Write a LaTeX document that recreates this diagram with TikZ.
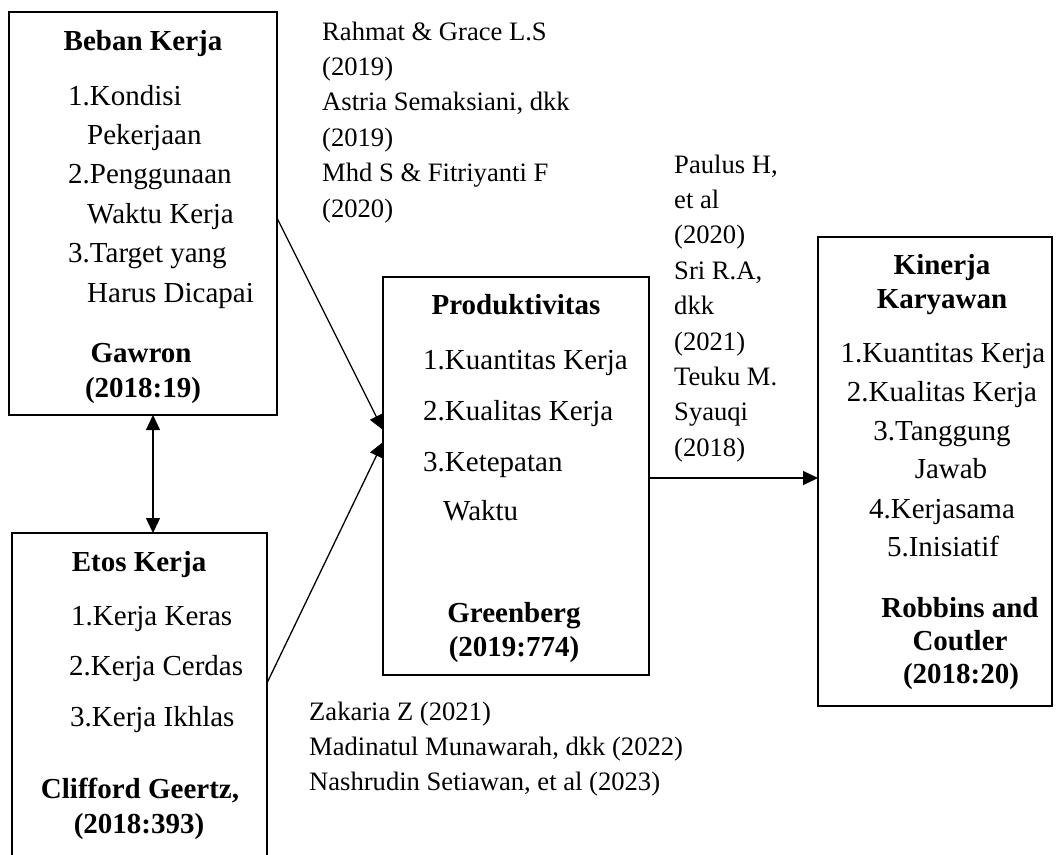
\documentclass[tikz,border=0pt]{standalone}
\usepackage{fontspec}
\setmainfont{Liberation Serif}
\usetikzlibrary{arrows.meta,calc}
\begin{document}
\begin{tikzpicture}[x=1pt,y=-1pt,
  box/.style={draw,line width=1.5pt,inner sep=0pt,outer sep=0pt},
  bt/.style={font=\fontsize{29}{35}\selectfont\bfseries,inner sep=0pt,anchor=base},
  lt/.style={font=\fontsize{29}{35}\selectfont,inner sep=0pt,anchor=base west},
  ct/.style={font=\fontsize{29}{35}\selectfont,inner sep=0pt,anchor=base},
  rt/.style={font=\fontsize{26.6}{32}\selectfont,inner sep=0pt,anchor=base west},
  tip/.tip={Triangle[length=15pt,width=14pt]},
  arr/.style={-tip,line width=1.3pt},
  darr/.style={tip-tip,line width=1.3pt}]
\useasboundingbox (0,0) rectangle (1059,854);

% boxes
\node[box,minimum width=268pt,minimum height=403pt] (b1) at (143,213.5) {};
\node[box,minimum width=255pt,minimum height=337pt] (b2) at (139.5,701.5) {};
\node[box,minimum width=266pt,minimum height=398pt] (b3) at (516,476) {};
\node[box,minimum width=234pt,minimum height=469pt] (b4) at (935,471.5) {};

% Beban Kerja
\node[bt] (t1a) at (143,50) {Beban Kerja};
\node[lt] (t1b) at (68,105) {1.Kondisi};
\node[lt] (t1c) at (87,144.4) {Pekerjaan};
\node[lt] (t1d) at (68,183.8) {2.Penggunaan};
\node[lt] (t1e) at (87,223.2) {Waktu Kerja};
\node[lt] (t1f) at (68,262.6) {3.Target yang};
\node[lt] (t1g) at (87,302) {Harus Dicapai};
\node[bt] (t1h) at (141,362) {Gawron};
\node[bt] (t1i) at (143,397) {(2018:19)};

% Etos Kerja
\node[bt] (t2a) at (139,571) {Etos Kerja};
\node[lt] (t2b) at (71,625) {1.Kerja Keras};
\node[lt] (t2c) at (69,675) {2.Kerja Cerdas};
\node[lt] (t2d) at (70,726) {3.Kerja Ikhlas};
\node[bt] (t2e) at (140,798) {Clifford Geertz,};
\node[bt] (t2f) at (139,833) {(2018:393)};

% Produktivitas
\node[bt] (t3a) at (516,314) {Produktivitas};
\node[lt] (t3b) at (423,369) {1.Kuantitas Kerja};
\node[lt] (t3c) at (423,420) {2.Kualitas Kerja};
\node[lt] (t3d) at (423,471) {3.Ketepatan};
\node[lt] (t3e) at (443,520) {Waktu};
\node[bt] (t3f) at (514,622) {Greenberg};
\node[bt] (t3g) at (514,656) {(2019:774)};

% Kinerja Karyawan
\node[bt] (t4a) at (942,274) {Kinerja};
\node[bt] (t4b) at (942,308) {Karyawan};
\node[ct] (t4c) at (943,362) {1.Kuantitas Kerja};
\node[ct] (t4d) at (942,401) {2.Kualitas Kerja};
\node[ct] (t4e) at (942,440) {3.Tanggung};
\node[ct] (t4f) at (951,478) {Jawab};
\node[ct] (t4g) at (942,518) {4.Kerjasama};
\node[ct] (t4h) at (943,556) {5.Inisiatif};
\node[bt] (t4i) at (960,617) {Robbins and};
\node[bt] (t4j) at (960,650) {Coutler};
\node[bt] (t4k) at (961,683) {(2018:20)};

% references
\foreach \t [count=\i from 0] in {Rahmat \& Grace L.S,(2019),{Astria Semaksiani, dkk},(2019),Mhd S \& Fitriyanti F,(2020)}
  \node[rt] (ra\i) at (322,{40+35.4*\i}) {\t};
\foreach \t [count=\i from 0] in {{Paulus H,},et al,(2020),{Sri R.A,},dkk,(2021),Teuku M.,Syauqi,(2018)}
  \node[rt] (rb\i) at (674,{173+35.4*\i}) {\t};
\foreach \t [count=\i from 0] in {Zakaria Z (2021),{Madinatul Munawarah, dkk (2022)},{Nashrudin Setiawan, et al (2023)}}
  \node[rt] (rc\i) at (309,{720+35.4*\i}) {\t};

% connectors
\draw[arr] ($(b1.north east)+(0,206)$) -- ($(b3.north west)+(0,153)$);
\draw[arr] ($(b2.north east)+(0,150)$) -- ($(b3.north west)+(0,165)$);
\draw[arr] ($(b3.north east)+(0,201)$) -- ($(b4.north west)+(0,241)$);
\draw[darr] ($(b1.south)+(10,0)$) -- ($(b2.north)+(13.5,0)$);
\end{tikzpicture}
\end{document}
